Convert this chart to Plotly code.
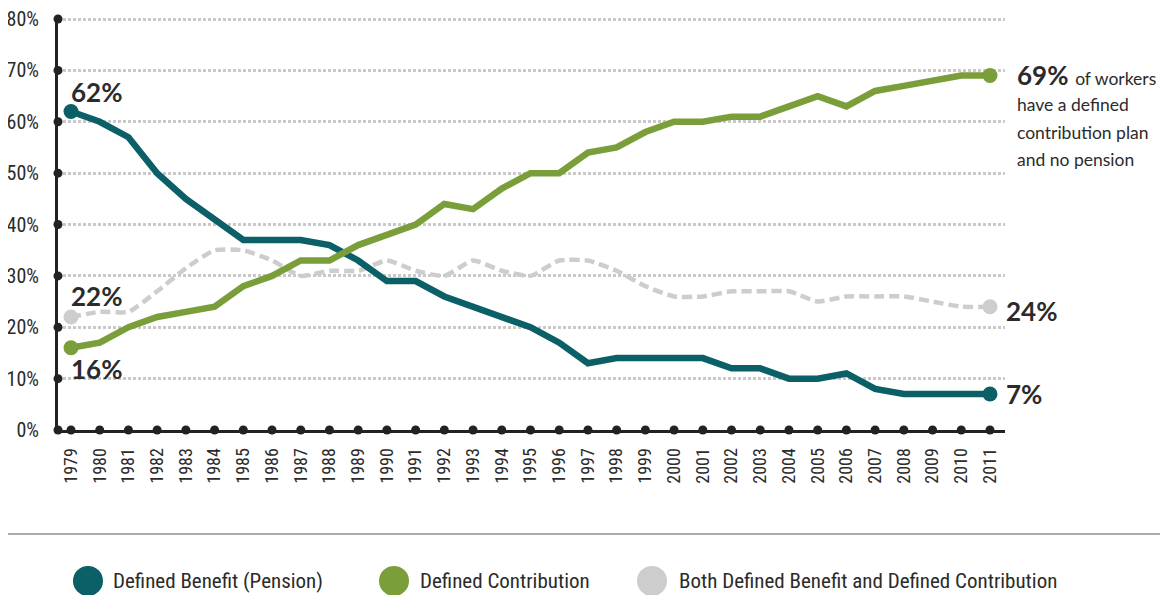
import plotly.graph_objects as go

# ---------------- data ----------------
years = list(range(1979, 2012))
defined_benefit = [62, 60, 57, 50, 45, 41, 37, 37, 37, 36, 33, 29, 29, 26, 24, 22, 20, 17, 13, 14,
                   14, 14, 14, 12, 12, 10, 10, 11, 8, 7, 7, 7, 7]
defined_contribution = [16, 17, 20, 22, 23, 24, 28, 30, 33, 33, 36, 38, 40, 44, 43, 47, 50, 50, 54, 55,
                        58, 60, 60, 61, 61, 63, 65, 63, 66, 67, 68, 69, 69]
both = [22, 23, 23, 27, 31.5, 35, 35, 33, 30, 31, 31, 33, 31, 30, 33, 31, 30, 33, 33, 31,
        28, 26, 26, 27, 27, 27, 25, 26, 26, 26, 25, 24, 24]
y_ticks = [0, 10, 20, 30, 40, 50, 60, 70, 80]
series_names = ["Defined Benefit (Pension)", "Defined Contribution",
                "Both Defined Benefit and Defined Contribution"]

# ---------------- style ----------------
OFF = 8  # page body margin
W, H = 1174 - OFF, 595 - OFF
y_top = y_ticks[-1] + 0.4
px_per_pct = (430 - 19) / y_ticks[-1]
# target page-pixel positions of the plot area
PL, PR, PB = 58, 1005, 430
PT = 19 - (y_top - y_ticks[-1]) * px_per_pct
ML, MT = PL - OFF, PT - OFF
MR, MB = W - (PR - OFF), H - (PB - OFF)
PW, PH = PR - PL, PB - PT
C_DB = "#0b5f66"
C_DC = "#7a9e39"
C_BOTH = "#cdcdcd"
C_AXIS = "#222222"
C_TEXT = "#2b2b2b"
NARROW = "Roboto Condensed, Liberation Sans Narrow, Liberation Sans, Arial, sans-serif"
BOLD = "Lato, Open Sans, sans-serif"

px_per_year = (990 - 71) / (years[-1] - years[0])
x_lo = years[0] - (71 - PL) / px_per_year
x_hi = x_lo + PW / px_per_year


def px(xp):
    return (xp - PL) / PW


def py(yp):
    return (PB - yp) / PH


def end_sizes(n, s):
    return [s] + [0] * (n - 2) + [s]


fig = go.Figure()

fig.add_trace(go.Scatter(
    x=years, y=both, mode="lines+markers",
    line=dict(color=C_BOTH, width=4.5, dash="10px,5px", shape="spline", smoothing=0.5),
    marker=dict(size=end_sizes(len(years), 15), color=C_BOTH, opacity=1, line=dict(width=0)),
    name=series_names[2], showlegend=False, hoverinfo="skip"))
fig.add_trace(go.Scatter(
    x=years, y=defined_benefit, mode="lines+markers",
    line=dict(color=C_DB, width=6.5),
    marker=dict(size=end_sizes(len(years), 15), color=C_DB, opacity=1, line=dict(width=0)),
    name=series_names[0], showlegend=False, hoverinfo="skip"))
fig.add_trace(go.Scatter(
    x=years, y=defined_contribution, mode="lines+markers",
    line=dict(color=C_DC, width=6.5),
    marker=dict(size=end_sizes(len(years), 15), color=C_DC, opacity=1, line=dict(width=0)),
    name=series_names[1], showlegend=False, hoverinfo="skip"))

# axis dots
fig.add_trace(go.Scatter(
    x=[x_lo] * len(y_ticks), y=y_ticks, mode="markers",
    marker=dict(size=9, color=C_AXIS), cliponaxis=False,
    showlegend=False, hoverinfo="skip"))
fig.add_trace(go.Scatter(
    x=years, y=[0] * len(years), mode="markers",
    marker=dict(size=9, color=C_AXIS), cliponaxis=False,
    showlegend=False, hoverinfo="skip"))

fig.update_layout(
    width=W, height=H,
    margin=dict(l=ML, r=MR, t=MT, b=MB, pad=0, autoexpand=False),
    paper_bgcolor="white", plot_bgcolor="white",
    showlegend=False,
    xaxis=dict(
        range=[x_lo, x_hi], tickmode="array", tickvals=years,
        ticktext=[str(y) for y in years], tickangle=-90,
        tickfont=dict(family=NARROW, size=18, color=C_TEXT),
        showgrid=False, zeroline=False, showline=True, automargin=False,
        linecolor=C_AXIS, linewidth=3, ticks="", ticklabelstandoff=8,
    ),
    yaxis=dict(
        range=[0, y_top], tickmode="array", tickvals=y_ticks,
        ticktext=[f"{v}%" for v in y_ticks],
        tickfont=dict(family=NARROW, size=20, color=C_TEXT),
        showgrid=True, gridcolor="#c9c9c9", gridwidth=2.5, griddash="3px,2px",
        zeroline=False, showline=True, linecolor=C_AXIS, linewidth=3, automargin=False,
        ticks="", ticklabelstandoff=12, ticklabeloverflow="allow",
    ),
)

annotations = []


def lab(x, y, text, xs, ys, size=26, anchor="left"):
    annotations.append(dict(
        x=x, y=y, xref="x", yref="y", text=text, showarrow=False,
        xanchor=anchor, yanchor="middle", xshift=xs, yshift=ys,
        font=dict(family=BOLD, size=size, color=C_TEXT)))


lab(years[0], defined_benefit[0], f"<b>{defined_benefit[0]}%</b>", -2, 20)
lab(years[0], both[0], f"<b>{both[0]}%</b>", -2, 21)
lab(years[0], defined_contribution[0], f"<b>{defined_contribution[0]}%</b>", -2, -21)
lab(years[-1], both[-1], f"<b>{both[-1]}%</b>", 14, -4)
lab(years[-1], defined_benefit[-1], f"<b>{defined_benefit[-1]}%</b>", 14, 0)
lab(years[-1], defined_contribution[-1],
    f"<b>{defined_contribution[-1]}%</b> <span style='font-size:17.5px'>of workers</span>", 25, 1)
for i, line in enumerate(["have a defined", "contribution plan", "and no pension"]):
    annotations.append(dict(
        x=years[-1], y=defined_contribution[-1], xref="x", yref="y", text=line,
        showarrow=False, xanchor="left", yanchor="middle", xshift=25,
        yshift=-29 - 27.5 * i,
        font=dict(family=BOLD, size=17.5, color=C_TEXT)))

# legend (custom)
legend_colors = [C_DB, C_DC, C_BOTH]
legend_cx = [88, 394, 652]
legend_tx = [111, 418, 677]
shapes = [dict(type="line", xref="paper", yref="paper",
               x0=px(OFF), x1=px(1160), y0=py(534), y1=py(534),
               line=dict(color="#aaaaaa", width=2))]
for name, col, cx, tx in zip(series_names, legend_colors, legend_cx, legend_tx):
    shapes.append(dict(type="circle", xref="paper", yref="paper",
                       xsizemode="pixel", ysizemode="pixel",
                       xanchor=px(cx), yanchor=py(581),
                       x0=-15, x1=15, y0=-15, y1=15,
                       fillcolor=col, line=dict(width=0)))
    annotations.append(dict(x=px(tx), y=py(581), xref="paper", yref="paper",
                            text=name, showarrow=False, xanchor="left", yanchor="middle",
                            font=dict(family=NARROW, size=21, color=C_TEXT)))

fig.update_layout(annotations=annotations, shapes=shapes)

fig.write_html("out.html")
